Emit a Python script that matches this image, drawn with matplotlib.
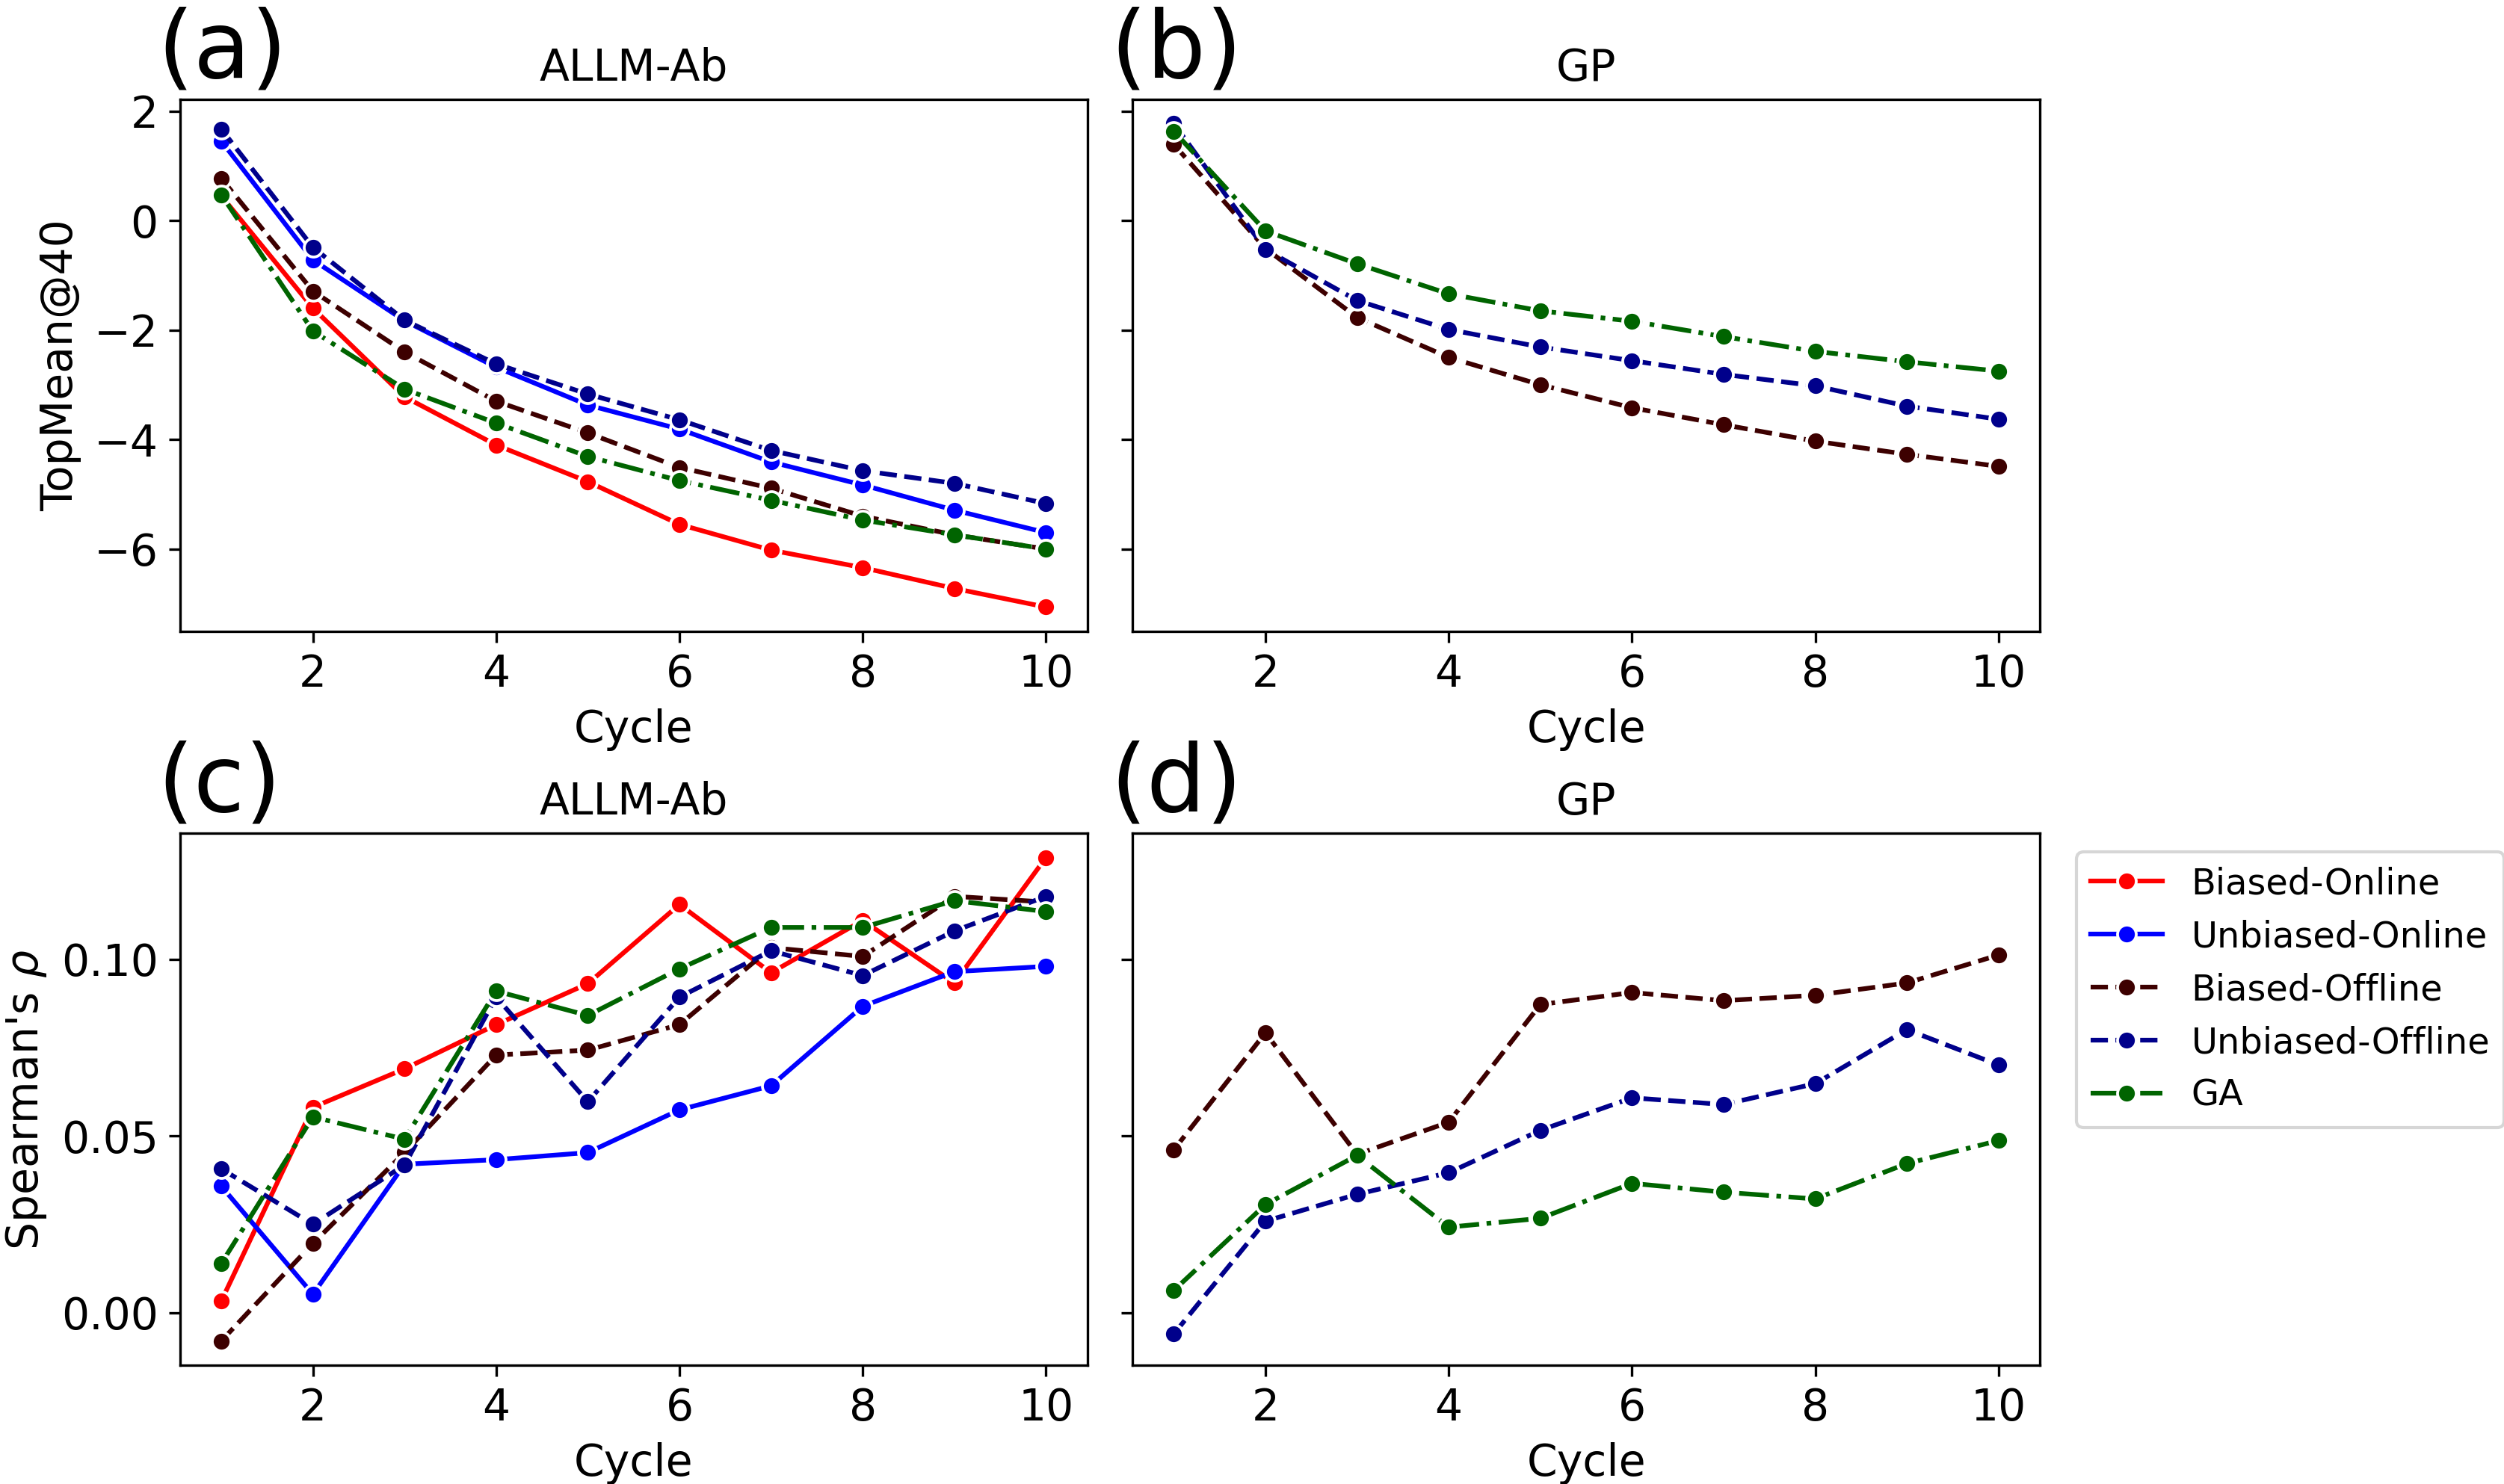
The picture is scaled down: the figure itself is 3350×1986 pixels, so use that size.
import matplotlib
matplotlib.use("Agg")
import matplotlib.pyplot as plt

cycles = [1, 2, 3, 4, 5, 6, 7, 8, 9, 10]

# (a) ALLM-Ab, TopMean@40
a_biased_online = [0.45, -1.60, -3.22, -4.10, -4.77, -5.55, -6.02, -6.34, -6.72, -7.06]
a_unbiased_online = [1.45, -0.72, -1.83, -2.68, -3.37, -3.81, -4.41, -4.83, -5.29, -5.70]
a_biased_offline = [0.77, -1.29, -2.40, -3.30, -3.88, -4.51, -4.89, -5.40, -5.74, -6.00]
a_unbiased_offline = [1.67, -0.49, -1.82, -2.62, -3.17, -3.64, -4.20, -4.57, -4.80, -5.17]
a_ga = [0.47, -2.02, -3.08, -3.70, -4.31, -4.75, -5.11, -5.47, -5.74, -6.00]

# (b) GP, TopMean@40
b_biased_offline = [1.39, -0.51, -1.77, -2.50, -3.00, -3.42, -3.73, -4.03, -4.27, -4.49]
b_unbiased_offline = [1.77, -0.53, -1.46, -1.99, -2.31, -2.56, -2.81, -3.02, -3.39, -3.63]
b_ga = [1.63, -0.19, -0.79, -1.34, -1.65, -1.84, -2.12, -2.39, -2.58, -2.75]

# (c) ALLM-Ab, Spearman
c_biased_online = [0.0033, 0.0581, 0.0690, 0.0815, 0.0931, 0.1155, 0.0962, 0.1110, 0.0933, 0.1288]
c_unbiased_online = [0.0358, 0.0052, 0.0420, 0.0433, 0.0453, 0.0574, 0.0642, 0.0867, 0.0965, 0.0980]
c_biased_offline = [-0.0080, 0.0196, 0.0453, 0.0729, 0.0743, 0.0815, 0.1033, 0.1008, 0.1178, 0.1162]
c_unbiased_offline = [0.0407, 0.0250, 0.0418, 0.0893, 0.0597, 0.0893, 0.1024, 0.0954, 0.1080, 0.1178]
c_ga = [0.0139, 0.0554, 0.0491, 0.0910, 0.0841, 0.0973, 0.1090, 0.1090, 0.1166, 0.1135]

# (d) GP, Spearman
d_biased_offline = [0.0461, 0.0792, 0.0448, 0.0539, 0.0872, 0.0906, 0.0883, 0.0898, 0.0933, 0.1012]
d_unbiased_offline = [-0.0060, 0.0259, 0.0335, 0.0396, 0.0516, 0.0608, 0.0589, 0.0648, 0.0801, 0.0701]
d_ga = [0.0063, 0.0306, 0.0445, 0.0242, 0.0267, 0.0366, 0.0341, 0.0322, 0.0422, 0.0487]

styles = {
    "Biased-Online": ("#ff0000", "-"),
    "Unbiased-Online": ("#0000ff", "-"),
    "Biased-Offline": ("#3d0000", "--"),
    "Unbiased-Offline": ("#00008b", "--"),
    "GA": ("#006400", "-."),
}

plt.rcParams["font.size"] = 14

fig, axes = plt.subplots(2, 2, figsize=(3350 / 300, 1986 / 300), dpi=300, sharey="row")
fig.subplots_adjust(left=0.0719, right=0.8146, top=0.933, bottom=0.0801, wspace=0.05, hspace=0.38)


def draw(ax, series):
    for name, vals in series:
        color, ls = styles[name]
        ax.plot(cycles, vals, color=color, linestyle=ls, linewidth=1.5, marker="o",
                markersize=6, markeredgecolor="white", markeredgewidth=0.9, label=name)


draw(axes[0, 0], [("Biased-Online", a_biased_online), ("Unbiased-Online", a_unbiased_online),
                  ("Biased-Offline", a_biased_offline), ("Unbiased-Offline", a_unbiased_offline),
                  ("GA", a_ga)])
draw(axes[0, 1], [("Biased-Offline", b_biased_offline), ("Unbiased-Offline", b_unbiased_offline),
                  ("GA", b_ga)])
draw(axes[1, 0], [("Biased-Online", c_biased_online), ("Unbiased-Online", c_unbiased_online),
                  ("Biased-Offline", c_biased_offline), ("Unbiased-Offline", c_unbiased_offline),
                  ("GA", c_ga)])
draw(axes[1, 1], [("Biased-Offline", d_biased_offline), ("Unbiased-Offline", d_unbiased_offline),
                  ("GA", d_ga)])

titles = ["ALLM-Ab", "GP", "ALLM-Ab", "GP"]
letters = ["(a)", "(b)", "(c)", "(d)"]
for ax, t, l in zip(axes.flat, titles, letters):
    ax.set_title(t, fontsize=14)
    ax.set_xlabel("Cycle", fontsize=14)
    ax.set_xticks([2, 4, 6, 8, 10])
    ax.tick_params(labelsize=14)
    ax.text(-0.025, 1.005, l, transform=ax.transAxes, fontsize=30, ha="left", va="bottom")

axes[0, 0].set_ylabel("TopMean@40", fontsize=14)
axes[1, 0].set_ylabel("Spearman's $\\rho$", fontsize=14)
axes[0, 0].set_yticks([-6, -4, -2, 0, 2])
axes[1, 0].set_yticks([0.0, 0.05, 0.10])

handles, labels = axes[1, 0].get_legend_handles_labels()
fig.legend(handles, labels, loc="upper left", bbox_to_anchor=(0.8293, 0.426),
           borderaxespad=0, fontsize=11.5)

fig.savefig("out.png", dpi=300)
